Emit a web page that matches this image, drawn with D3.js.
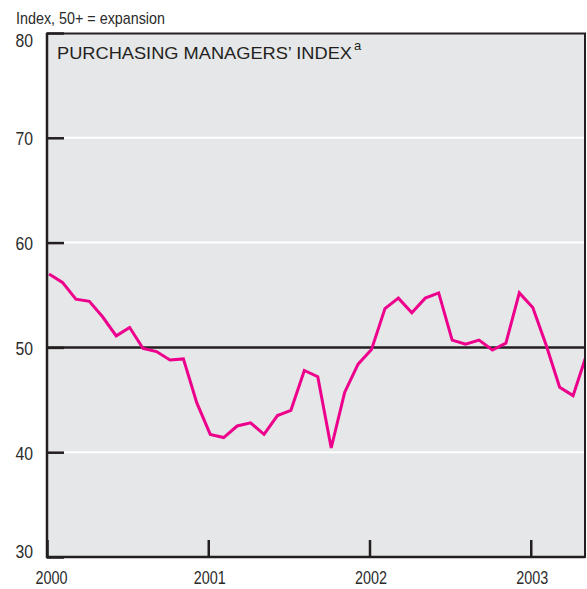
<!DOCTYPE html>
<html>
<head>
<meta charset="utf-8">
<script src="https://cdn.jsdelivr.net/npm/d3@7"></script>
<style>
  body { margin: 0; background: #fff; }
  svg { display: block; }
  .tick text { font-family: "Liberation Sans", Arial, sans-serif; font-size: 19px; fill: #2b2b2b; }
</style>
</head>
<body>
<svg id="chart"></svg>
<script>
// monthly values, Jan 2000 .. May 2003
const pmi = [
    57.0, 56.2, 54.6, 54.4, 52.9, 51.1, 51.9, 49.9, 49.6, 48.8, 48.9, 44.7,
    41.7, 41.4, 42.5, 42.8, 41.7, 43.5, 44.0, 47.8, 47.2, 40.4, 45.7, 48.4,
    49.8, 53.7, 54.7, 53.3, 54.7, 55.2, 50.7, 50.3, 50.7, 49.75, 50.4, 55.2,
    53.8, 50.2, 46.2, 45.4, 49.3
];
const yearTicks = [0, 12, 24, 36];
const yearLabels = ["2000", "2001", "2002", "2003"];
const yTicks = [30, 40, 50, 60, 70, 80];
const gridValues = [40, 60, 70];
const baseline = 50;

const width = 587, height = 589;
const mLeft = 47, mRight = 585, mTop = 33, mBottom = 557;

const svg = d3.select("#chart").attr("width", width).attr("height", height);

const x = d3.scaleLinear().domain([0, 40]).range([mLeft, 584.5]);
const y = d3.scaleLinear().domain([30, 80]).range([mBottom, mTop]);

// plot background
svg.append("rect")
    .attr("x", mLeft).attr("y", mTop)
    .attr("width", mRight - mLeft).attr("height", mBottom - mTop)
    .attr("fill", "#e6e7e8");

svg.append("clipPath").attr("id", "plot")
    .append("rect")
    .attr("x", mLeft).attr("y", mTop)
    .attr("width", mRight - mLeft).attr("height", mBottom - mTop);

// white gridlines
svg.append("g")
    .selectAll("line")
    .data(gridValues).enter()
    .append("line")
    .attr("x1", mLeft + 17).attr("x2", mRight)
    .attr("y1", d => y(d)).attr("y2", d => y(d))
    .attr("stroke", "#fff")
    .attr("stroke-width", 2);

// y axis, ticks pointing inside
const yAxis = svg.append("g")
    .attr("transform", `translate(${mLeft},0)`)
    .call(d3.axisLeft(y).tickValues(yTicks).tickSize(-17).tickPadding(14));
yAxis.select(".domain").remove();
yAxis.selectAll(".tick line").attr("stroke", "#231f20").attr("stroke-width", 2.5);
yAxis.selectAll(".tick text")
    .attr("textLength", 17.5)
    .attr("lengthAdjust", "spacingAndGlyphs")
    .attr("dy", d => d === 80 ? "0.72em" : d === 30 ? "0.0em" : "0.36em");

// x axis, year ticks
const xAxis = svg.append("g")
    .attr("transform", `translate(0,${mBottom})`)
    .call(d3.axisBottom(x).tickValues(yearTicks).tickSize(-17).tickPadding(14)
        .tickFormat((d, i) => yearLabels[i]));
xAxis.select(".domain").remove();
xAxis.selectAll(".tick line").attr("stroke", "#231f20").attr("stroke-width", 2.5);
xAxis.selectAll(".tick text")
    .attr("textLength", 32)
    .attr("lengthAdjust", "spacingAndGlyphs")
    .attr("dx", d => d === 0 ? 4 : 1);

// 50 line
svg.append("line")
    .attr("x1", mLeft).attr("x2", mRight)
    .attr("y1", y(baseline)).attr("y2", y(baseline))
    .attr("stroke", "#231f20")
    .attr("stroke-width", 2.5);

// PMI line
const line = d3.line()
    .x((d, i) => x(i + 0.15))
    .y(d => y(d));

svg.append("path")
    .datum(pmi)
    .attr("clip-path", "url(#plot)")
    .attr("d", line)
    .attr("fill", "none")
    .attr("stroke", "#ec008c")
    .attr("stroke-width", 3)
    .attr("stroke-linejoin", "miter");

// frame
svg.append("rect")
    .attr("x", mLeft).attr("y", mTop + 0.5)
    .attr("width", mRight - mLeft).attr("height", mBottom - mTop - 0.5)
    .attr("fill", "none")
    .attr("stroke", "#231f20")
    .attr("stroke-width", 2);
svg.append("path")
    .attr("d", `M${mLeft},${mTop} V${mBottom} H${mRight}`)
    .attr("fill", "none")
    .attr("stroke", "#231f20")
    .attr("stroke-width", 2.5);

// texts
svg.append("text")
    .attr("x", 16).attr("y", 24)
    .attr("font-family", "'Liberation Sans', Arial, sans-serif")
    .attr("font-size", "17px")
    .attr("fill", "#2b2b2b")
    .attr("textLength", 149)
    .attr("lengthAdjust", "spacingAndGlyphs")
    .text("Index, 50+ = expansion");

svg.append("text")
    .attr("x", 57).attr("y", 58.5)
    .attr("font-family", "'Liberation Sans', Arial, sans-serif")
    .attr("font-size", "17px")
    .attr("fill", "#231f20")
    .attr("textLength", 295)
    .attr("lengthAdjust", "spacingAndGlyphs")
    .text("PURCHASING MANAGERS\u2019 INDEX");
svg.append("text")
    .attr("x", 354).attr("y", 49.5)
    .attr("font-family", "'Liberation Sans', Arial, sans-serif")
    .attr("font-size", "13px")
    .attr("fill", "#231f20")
    .text("a");
</script>
</body>
</html>
